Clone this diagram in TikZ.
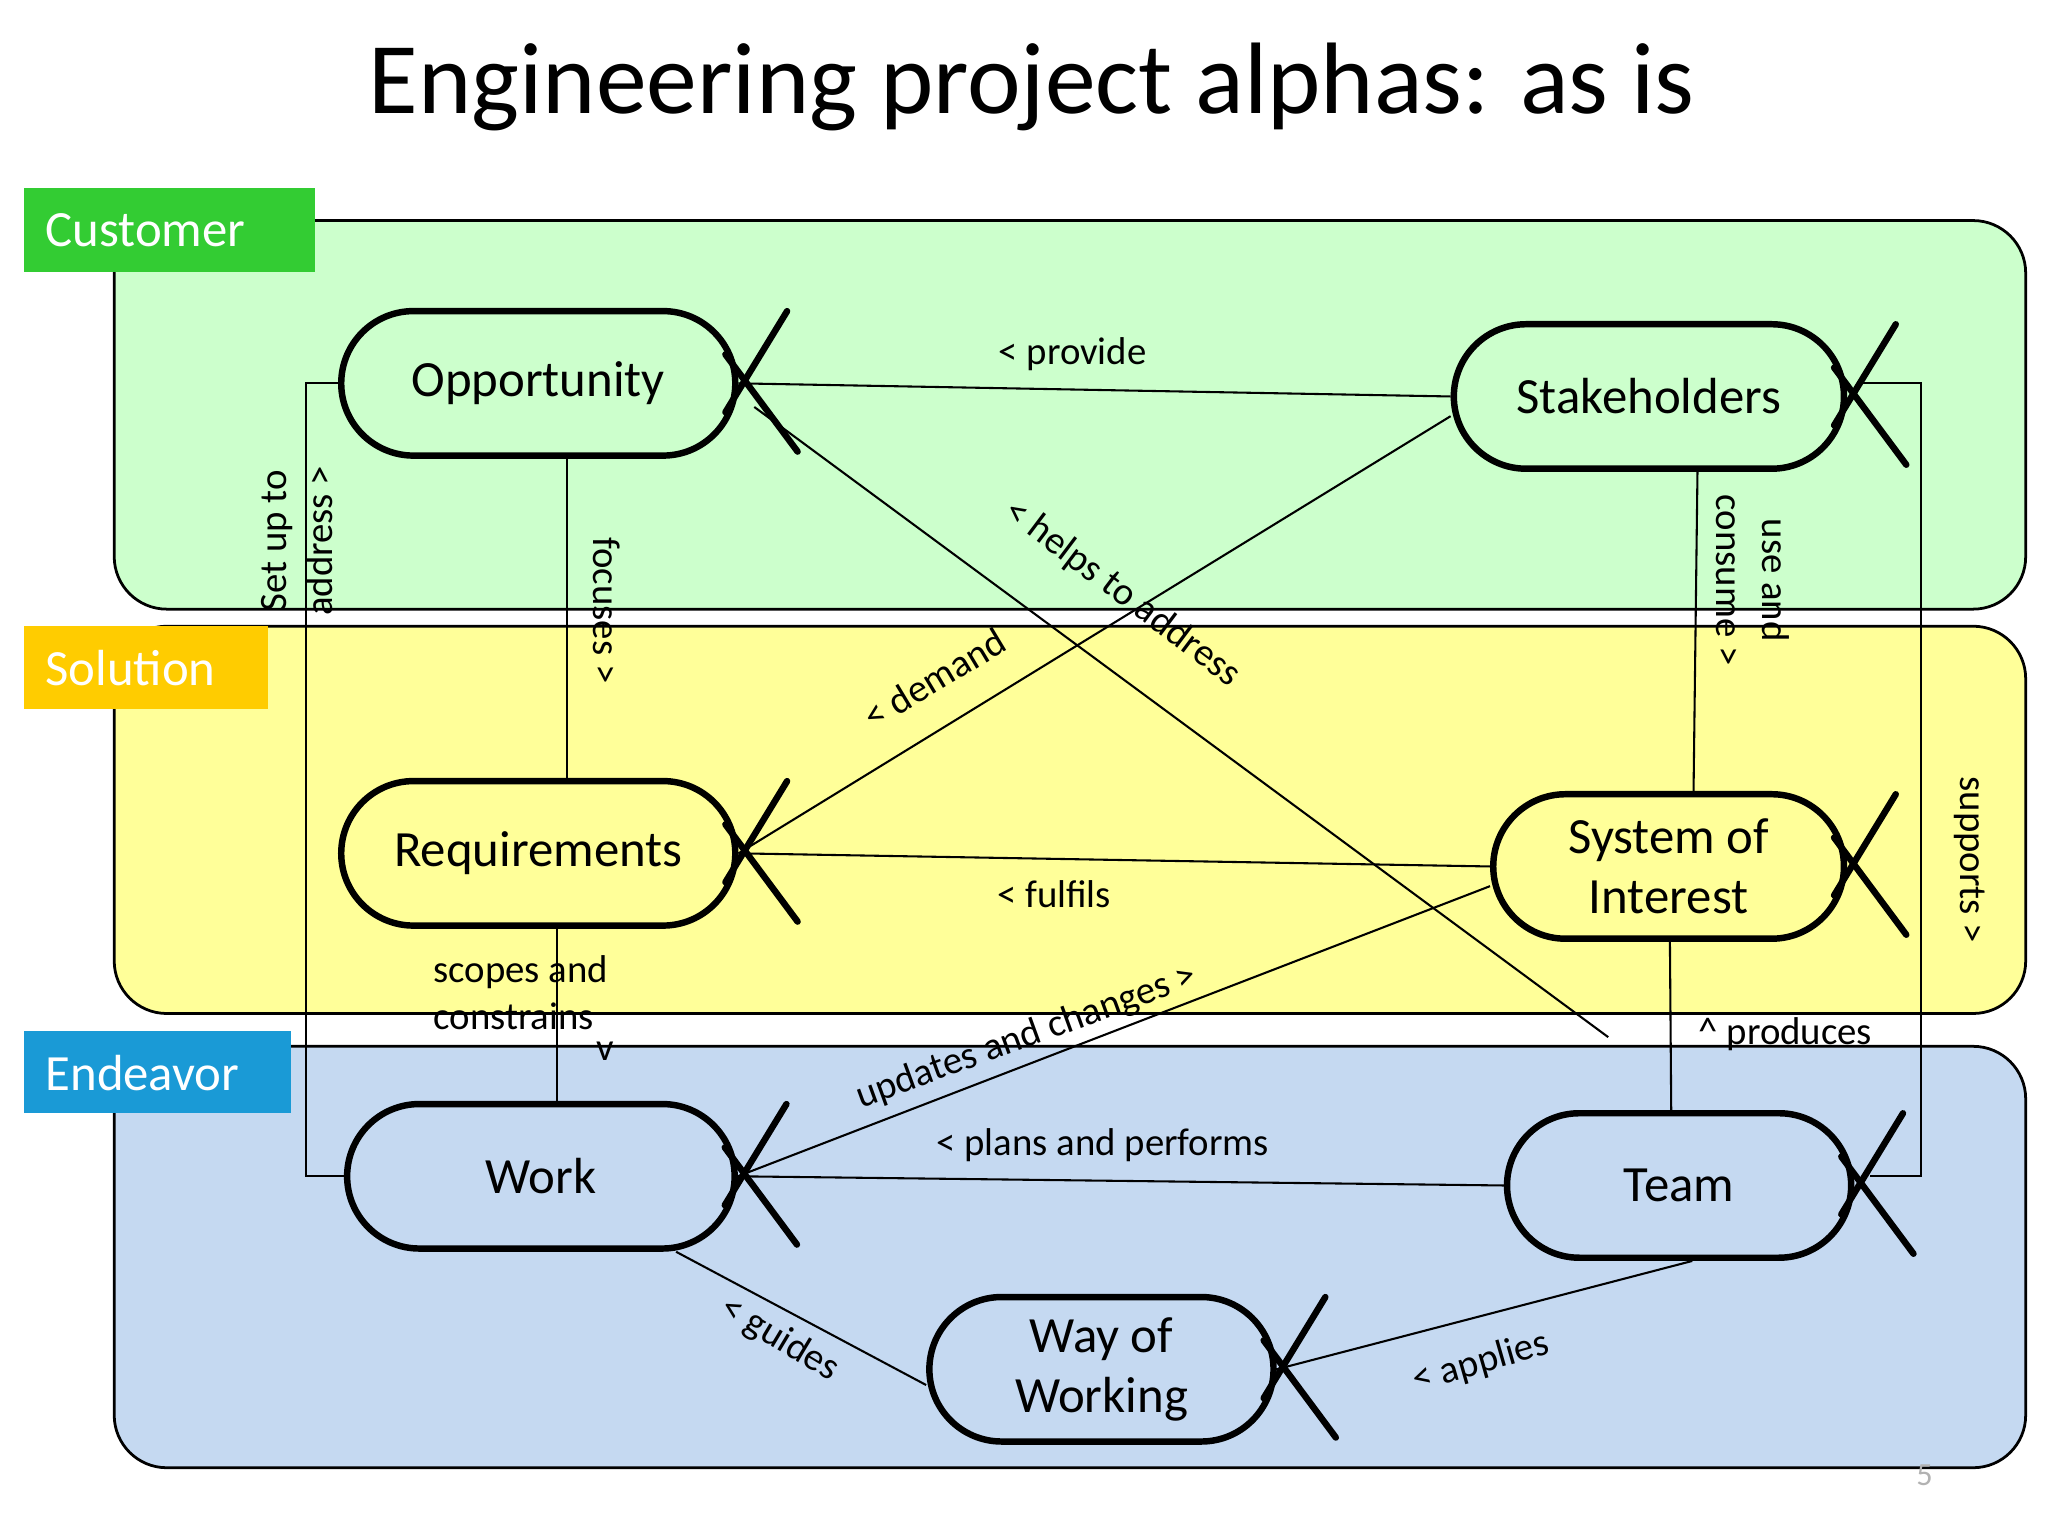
\documentclass[tikz,border=0pt]{standalone}
\usepackage{fontspec}
\setmainfont{Carlito}
\usetikzlibrary{calc}
\definecolor{cgreen}{HTML}{CCFFCC}
\definecolor{cyellow}{HTML}{FFFF99}
\definecolor{cblue}{HTML}{C5D9F1}
\definecolor{lgreen}{HTML}{33CC33}
\definecolor{lyellow}{HTML}{FFCC00}
\definecolor{lblue}{HTML}{1A9AD6}
\tikzset{
 band/.style={draw=black, line width=0.6pt, rounded corners=0.4cm},
 tag/.style={anchor=west, text=white, font=\fontsize{11pt}{12pt}\selectfont, inner sep=0pt},
 alpha/.style={draw=black, line width=1.4pt, rounded corners=0.55cm, minimum height=1.1cm, inner sep=2pt, align=center, font=\fontsize{11pt}{13pt}\selectfont},
 ax/.style={line width=1.4pt, line cap=round},
 con/.style={line width=0.45pt},
 lab/.style={font=\fontsize{8.4pt}{10pt}\selectfont, inner sep=1pt, align=left},
}
\newcommand{\alphaX}[1]{%
 \draw[ax] ($(#1.east)+(37,-55)$) -- ($(#1.east)+(-10,22)$);
 \draw[ax] ($(#1.east)+(-10,-22)$) -- ($(#1.east)+(45,52)$);}
\begin{document}
\begin{tikzpicture}[x=0.01cm,y=-0.01cm]
\useasboundingbox (0,0) rectangle (1560,1170);
\fill[white] (0,0) rectangle (1560,1170);
\node[font=\fontsize{22pt}{26pt}\selectfont] (title) at (786,66) {Engineering project alphas: as is};
% bands
\draw[band, fill=cgreen] (87,168) rectangle (1543,464);
\draw[band, fill=cyellow] (87,477) rectangle (1543,772);
\draw[band, fill=cblue] (87,797) rectangle (1543,1118);
\fill[lgreen] (18,143) rectangle (240,207);
\node[tag] (tc) at (34,175) {Customer};
\fill[lyellow] (18,477) rectangle (204,540);
\node[tag] (ts) at (34,509) {Solution};
\fill[lblue] (18,785) rectangle (222,848);
\node[tag] (te) at (34,817) {Endeavor};
\node[text=gray!60, font=\fontsize{7pt}{8pt}\selectfont] (pg) at (1466,1124) {5};
% alphas
\node[alpha, minimum width=3cm] (opp) at (410,292) {Opportunity};
\node[alpha, minimum width=2.97cm] (stk) at (1256,302) {Stakeholders};
\node[alpha, minimum width=3cm] (req) at (410,650) {Requirements};
\node[alpha, minimum width=2.67cm] (sys) at (1271,660) {System of\\Interest};
\node[alpha, minimum width=2.95cm] (work) at (412,896) {Work};
\node[alpha, minimum width=2.62cm] (team) at (1279,903) {Team};
\node[alpha, minimum width=2.62cm] (wow) at (839,1043) {Way of\\Working};
\foreach \n in {opp,stk,req,sys,work,team,wow} {\alphaX{\n}}
% connectors
\coordinate (hx) at (1225,790);
\draw[con] (opp.east) -- (stk.west);
\node[lab] (l1) at (817,270) {< provide};
\draw[con] ($(opp.south)+(22,0)$) -- ($(req.north)+(22,0)$);
\node[lab, rotate=-90] (l2) at (462,465) {focuses >};
\draw[con] ($(opp.east)+(12,18)$) -- (hx);
\node[lab, rotate=-37] (l3) at (855,452) {< helps to address};
\draw[con] ($(stk.west)+(0,15)$) -- (req.east);
\node[lab, rotate=31] (l4) at (712,517) {< demand};
\draw[con] ($(stk.south)+(37,0)$) -- ($(sys.north)+(19,0)$);
\node[lab, rotate=-90, align=center] (l5) at (1335,442) {use and\\consume >};
\draw[con] (req.east) -- (sys.west);
\node[lab] (l6) at (803,681) {< fulfils};
\draw[con] ($(req.south)+(14,0)$) -- ($(work.north)+(12,0)$);
\node[lab, anchor=north west] (l7) at (326,724) {scopes and\\constrains};
\node[lab] (l7b) at (461,801) {v};
\draw[con] (work.east) -- ($(sys.west)+(0,15)$);
\node[lab, rotate=20] (l8) at (782,790) {updates and changes >};
\draw[con] ($(sys.south)+(1,0)$) -- ($(team.north)+(-6,0)$);
\node[lab] (l9) at (1360,788) {\^{} produces};
\draw[con] (work.east) -- (team.west);
\node[lab] (l10) at (840,872) {< plans and performs};
\draw[con] ($(work.south)+(103,0)$) -- ($(wow.west)+(0,12)$);
\node[lab, rotate=-31] (l11) at (594,1020) {< guides};
\draw[con] (wow.east) -- ($(team.south)+(10,0)$);
\node[lab, rotate=16] (l12) at (1128,1038) {< applies};
\coordinate (b1) at (233,292); \coordinate (b2) at (233,896);
\draw[con] (opp.west) -- (b1) -- (b2) -- (work.west);
\node[lab, rotate=90, align=center] (l13) at (226,412) {Set up to\\address >};
\coordinate (r1) at (1463,292); \coordinate (r2) at (1463,896);
\draw[con] ($(stk.east)+(10,-10)$) -- (r1) -- (r2) -- ($(team.east)+(12,-7)$);
\node[lab, rotate=-90] (l14) at (1500,655) {supports >};
\end{tikzpicture}
\end{document}
